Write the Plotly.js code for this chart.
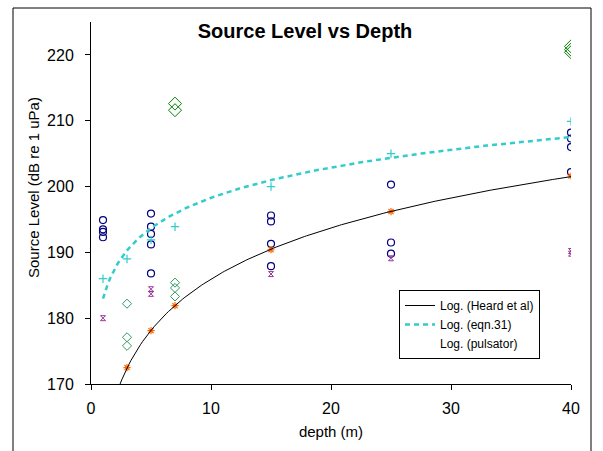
<!DOCTYPE html>
<html>
<head>
<meta charset="utf-8">
<script src="https://cdn.plot.ly/plotly-3.0.1.min.js"></script>
<style>
  html, body { margin: 0; padding: 0; background: #fff; }
  #chart { width: 603px; height: 451px; }
</style>
</head>
<body>
<div id="chart"></div>
<script>
// ---- data ----
// measured source levels (navy open circles)
const measDepth = [1, 1, 1, 1, 5, 5, 5, 5, 5, 15, 15, 15, 15, 25, 25, 25, 40, 40, 40, 40];
const measLevel = [194.9, 193.5, 193.1, 192.3, 195.9, 193.9, 192.8, 191.2, 186.8, 195.6, 194.7, 191.3, 187.9, 200.3, 191.5, 189.8, 208.2, 207.3, 206.0, 202.2];
// large dark green diamonds
const bigDiamDepth = [7, 7, 40, 40, 40];
const bigDiamLevel = [212.6, 211.6, 221.3, 220.8, 220.4];
// small sea green diamonds
const smallDiamDepth = [3, 3, 3, 7, 7, 7];
const smallDiamLevel = [182.2, 177.1, 175.8, 185.4, 184.6, 183.3];
// Heard et al (orange asterisks)
const heardDepth = [3, 5, 7, 15, 25, 40];
const heardLevel = [172.5, 178.1, 181.9, 190.4, 196.2, 201.6];
// eqn.31 (turquoise crosses)
const eqnDepth = [1, 3, 5, 7, 15, 25, 40];
const eqnLevel = [186.0, 189.0, 191.9, 193.9, 200.0, 205.0, 209.9];
// pulsator (purple markers)
const pulsDepth = [1, 5, 5, 15, 25, 40, 40];
const pulsLevel = [180.0, 184.4, 183.7, 186.7, 189.1, 190.2, 189.8];

const legendNames = ['Log. (Heard et al)', 'Log. (eqn.31)', 'Log. (pulsator)'];
const xTicks = [0, 10, 20, 30, 40];
const yTicks = [170, 180, 190, 200, 210, 220];

// logarithmic least-squares trendline (as a spreadsheet "Log." trendline)
function logFit(xs, ys) {
  const lx = xs.map(Math.log);
  const n = xs.length;
  const mx = lx.reduce((a, b) => a + b, 0) / n;
  const my = ys.reduce((a, b) => a + b, 0) / n;
  let sxy = 0, sxx = 0;
  for (let i = 0; i < n; i++) { sxy += (lx[i] - mx) * (ys[i] - my); sxx += (lx[i] - mx) ** 2; }
  const a = sxy / sxx, b = my - a * mx;
  return x => a * Math.log(x) + b;
}
function trend(xs, ys, x0, x1) {
  const f = logFit(xs, ys);
  const tx = [], ty = [];
  const steps = 200;
  for (let i = 0; i <= steps; i++) {
    const x = x0 + (x1 - x0) * i / steps;
    tx.push(x); ty.push(f(x));
  }
  return { x: tx, y: ty };
}
const allDepths = measDepth.concat(heardDepth, eqnDepth, pulsDepth);
const dMin = Math.min(...allDepths), dMax = Math.max(...allDepths);
const heardTrend = trend(heardDepth, heardLevel, dMin, dMax);
const eqnTrend = trend(eqnDepth, eqnLevel, dMin, dMax);
const pulsTrend = trend(pulsDepth, pulsLevel, dMin, dMax);

const traces = [
  { x: smallDiamDepth, y: smallDiamLevel, mode: 'markers', showlegend: false,
    marker: { symbol: 'diamond-open', size: 7, line: { color: '#339966', width: 1 }, color: '#339966' } },
  { x: bigDiamDepth, y: bigDiamLevel, mode: 'markers', showlegend: false,
    marker: { symbol: 'diamond-open', size: 10, line: { color: '#008000', width: 1 }, color: '#008000' } },
  { x: measDepth, y: measLevel, mode: 'markers', showlegend: false,
    marker: { symbol: 'circle-open', size: 7, line: { color: '#000080', width: 1.2 }, color: '#000080' } },
  { x: pulsDepth, y: pulsLevel, mode: 'markers', showlegend: false,
    marker: { symbol: 'hourglass-open', size: 5, line: { color: '#993399', width: 1 }, color: '#993399' } },
  { x: eqnDepth, y: eqnLevel, mode: 'markers', showlegend: false,
    marker: { symbol: 'cross-thin-open', size: 6, line: { color: '#33CCCC', width: 1.2 }, color: '#33CCCC' } },
  { x: heardDepth, y: heardLevel, mode: 'markers', showlegend: false,
    marker: { symbol: 'asterisk-open', size: 6, line: { color: '#FF6600', width: 1.2 }, color: '#FF6600' } },
  { x: heardTrend.x, y: heardTrend.y, mode: 'lines', name: legendNames[0],
    line: { color: '#000000', width: 1 } },
  { x: eqnTrend.x, y: eqnTrend.y, mode: 'lines', name: legendNames[1],
    line: { color: '#33CCCC', width: 2.5, dash: '5px,4px' } },
  { x: pulsTrend.x, y: pulsTrend.y, mode: 'lines', name: legendNames[2],
    line: { color: 'rgba(0,0,0,0)', width: 1 } }
];

const font = 'Arial, "Liberation Sans", sans-serif';
const L = 91, R = 32, T = 22, B = 67, W = 603, H = 451;
const pw = W - L - R, ph = H - T - B;
const px2x = px => (px - L) / pw;
const py2y = py => (H - B - py) / ph;

const layout = {
  width: W, height: H,
  margin: { l: L, r: R, t: T, b: B, pad: 0 },
  paper_bgcolor: '#ffffff', plot_bgcolor: '#ffffff',
  font: { family: font, color: '#000000', size: 15 },
  title: { text: 'Source Level vs Depth', font: { family: font, size: 20, color: '#000000', weight: 'bold' },
           xref: 'container', yref: 'container', x: 305 / W, y: 1 - 31 / H, xanchor: 'center', yanchor: 'middle' },
  xaxis: {
    range: [0, 40], tickvals: xTicks, ticktext: xTicks.map(String),
    showgrid: false, zeroline: false, showline: true, linecolor: '#000000', linewidth: 1,
    ticks: 'outside', ticklen: 5, tickcolor: '#000000', tickfont: { size: 16 }, ticklabelstandoff: 5,
    title: { text: 'depth (m)', font: { size: 15 }, standoff: 10 }
  },
  yaxis: {
    range: [170, 225], tickvals: yTicks, ticktext: yTicks.map(String),
    showgrid: false, zeroline: false, showline: true, linecolor: '#000000', linewidth: 1,
    ticks: 'outside', ticklen: 5, tickcolor: '#000000', tickfont: { size: 16 }, ticklabelstandoff: 8
  },
  annotations: [
    { text: 'Source Level (dB re 1 uPa)', xref: 'paper', yref: 'paper', x: px2x(33), y: py2y(188),
      xanchor: 'center', yanchor: 'middle', textangle: -90, showarrow: false, font: { size: 15 } }
  ],
  legend: {
    x: px2x(399), y: py2y(290), xanchor: 'left', yanchor: 'top',
    bgcolor: '#ffffff', bordercolor: '#000000', borderwidth: 1,
    font: { size: 12, family: font }, tracegroupgap: 0
  },
  shapes: [
    { type: 'rect', xref: 'paper', yref: 'paper', x0: px2x(13), x1: px2x(591), y0: py2y(470), y1: py2y(8),
      line: { color: '#000000', width: 1 }, fillcolor: 'rgba(0,0,0,0)', layer: 'below' }
  ],
  showlegend: true
};

Plotly.newPlot('chart', traces, layout, { displayModeBar: false, staticPlot: true });
</script>
</body>
</html>
